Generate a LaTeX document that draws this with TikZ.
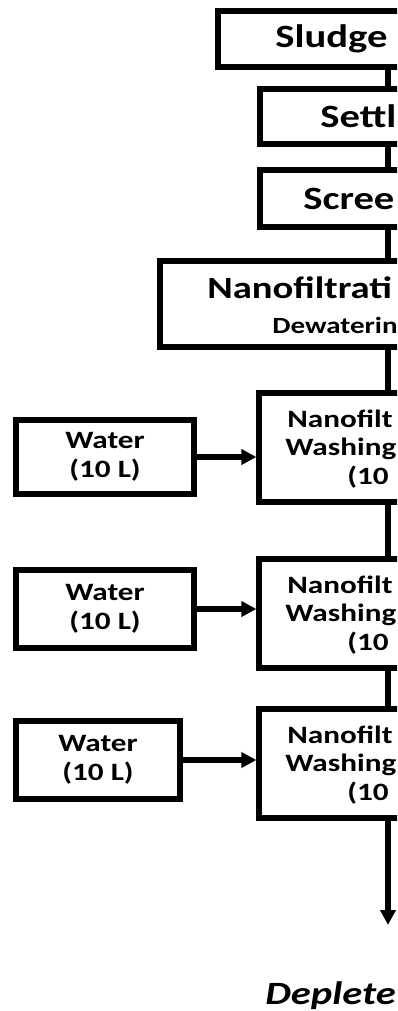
\documentclass[tikz,border=0pt]{standalone}
\usepackage{fontspec}
\newfontfamily\flowfont{Carlito}[FakeStretch=1.25]
\usetikzlibrary{arrows.meta}
\tikzstyle{block} = [rectangle, 
draw=black, 
line width=3pt, 
inner sep=0pt]
\tikzstyle{bigtext} = [font=\flowfont\bfseries\fontsize{18.5}{22}\selectfont, 
anchor=west, 
inner sep=0pt]
\tikzstyle{smalltext} = [font=\flowfont\bfseries\fontsize{14.2}{16.4}\selectfont, 
align=left, 
inner sep=0pt]
\tikzstyle{line} = [line width=3pt]
\tikzstyle{arrow} = [line width=3pt,-{Triangle[length=0.3cm,width=0.3cm]}]

\begin{document}
\begin{tikzpicture}[x=0.02cm, y=-0.02cm]
\useasboundingbox (0,0) rectangle (397,1011);
\clip (0,0) rectangle (397,1011);
% main column
\node (sludge) [block, minimum width=6.8cm, minimum height=1.12cm] at (388,39) {};
\node (settling) [block, minimum width=5.12cm, minimum height=1.1cm] at (388,116.5) {};
\node (screening) [block, minimum width=5.12cm, minimum height=1.14cm] at (388,198.5) {};
\node (nanof) [block, minimum width=9.12cm, minimum height=1.72cm] at (388,304) {};
\node (wash1) [block, minimum width=5.16cm, minimum height=2.18cm] at (388,447.5) {};
\node (wash2) [block, minimum width=5.16cm, minimum height=2.18cm] at (388,613.5) {};
\node (wash3) [block, minimum width=5.16cm, minimum height=2.18cm] at (388,763.5) {};
\coordinate (out) at (388,925);

% water inputs
\node (water1) [block, smalltext, align=center, minimum width=3.56cm, minimum height=1.48cm] at (105,457) {Water\\(10 L)};
\node (water2) [block, smalltext, align=center, minimum width=3.56cm, minimum height=1.56cm] at (105,609) {Water\\(10 L)};
\node (water3) [block, smalltext, align=center, minimum width=3.28cm, minimum height=1.56cm] at (98,760) {Water\\(10 L)};

% texts
\node (sludgetxt) [bigtext] at (275,39) {Sludge};
\node (settlingtxt) [bigtext] at (320,116.5) {Settl};
\node (screeningtxt) [bigtext] at (303,198.5) {Scree};
\node (nanoftxt) [bigtext, font=\flowfont\bfseries\fontsize{17.6}{21}\selectfont] at (207,288) {Nanofiltrati};
\node (dewatertxt) [bigtext, font=\flowfont\bfseries\fontsize{13.2}{15}\selectfont] at (272,325.5) {Dewaterin};
\node (wash1txt) [smalltext, anchor=west] at (285,449) {\hspace*{0.04cm}Nanofilt\\Washing\\\hspace*{1.24cm}(10};
\node (wash2txt) [smalltext, anchor=west] at (285,615) {\hspace*{0.04cm}Nanofilt\\Washing\\\hspace*{1.24cm}(10};
\node (wash3txt) [smalltext, anchor=west] at (285,765) {\hspace*{0.04cm}Nanofilt\\Washing\\\hspace*{1.24cm}(10};
\node (depleted) [bigtext, font=\flowfont\bfseries\itshape\fontsize{18.5}{22}\selectfont] at (265,996) {Deplete};

\draw [line] (sludge) -- (settling);
\draw [line] (settling) -- (screening);
\draw [line] (screening) -- (nanof);
\draw [line] (nanof) -- (wash1);
\draw [line] (wash1) -- (wash2);
\draw [line] (wash2) -- (wash3);
\draw [arrow] (wash3) -- (out);
\draw [arrow] (water1) -- (water1 -| wash1.west);
\draw [arrow] (water2) -- (water2 -| wash2.west);
\draw [arrow] (water3) -- (water3 -| wash3.west);
\end{tikzpicture}
\end{document}
